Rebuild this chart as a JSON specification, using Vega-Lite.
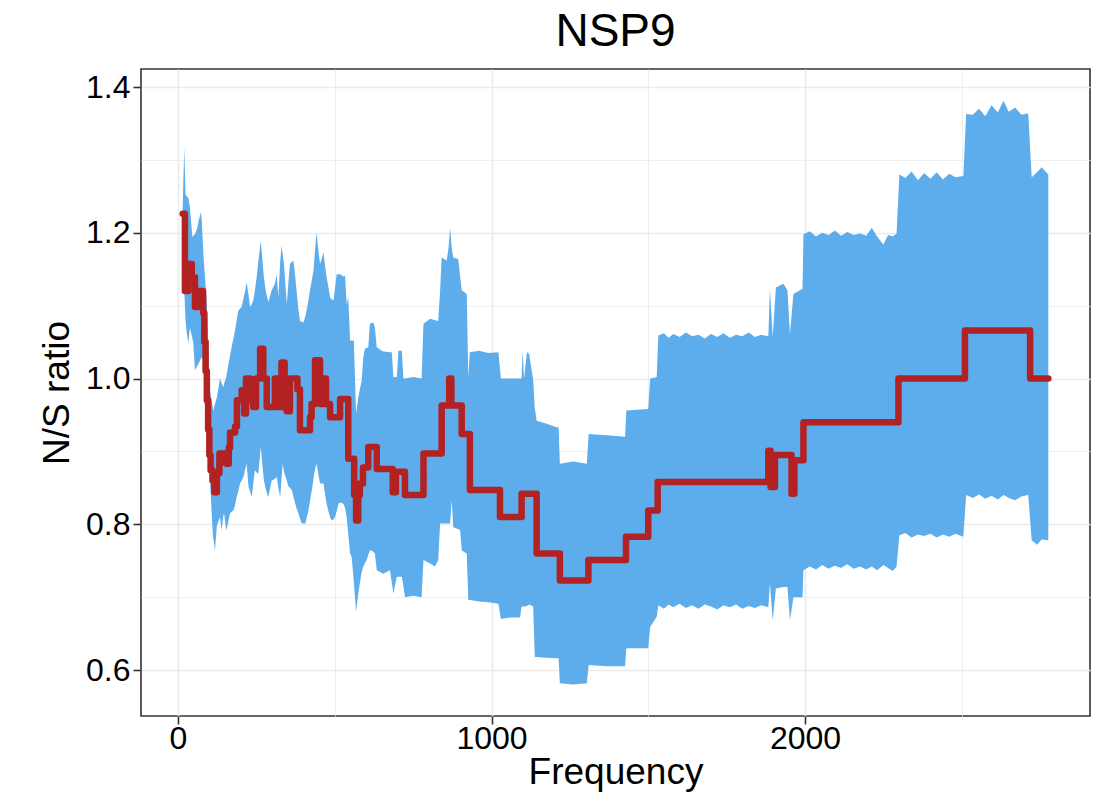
{
  "$schema": "https://vega.github.io/schema/vega-lite/v6.json",
  "width": 949,
  "height": 647,
  "autosize": {"type": "none"},
  "padding": {"left": 141, "top": 69, "right": 28, "bottom": 94},
  "background": "white",
  "config": {
    "font": "Liberation Sans",
    "view": {"stroke": "#333333", "strokeWidth": 1.6},
    "axis": {
      "domain": false,
      "grid": true,
      "gridColor": "#EBEBEB",
      "tickColor": "#333333",
      "tickWidth": 1.6,
      "tickSize": 8,
      "labelFontSize": 32,
      "labelColor": "#000000",
      "labelFlush": false,
      "labelOverlap": false,
      "titleFontSize": 37,
      "titleFontWeight": "normal",
      "titleColor": "#000000"
    }
  },
  "title": {"text": "NSP9", "fontSize": 46, "fontWeight": "normal", "color": "#000000", "anchor": "middle", "offset": 13},
  "datasets": {
    "ribbon": [
      {"f":15,"hi":1.235,"lo":1.16},{"f":20,"hi":1.317,"lo":1.121},{"f":24,"hi":1.253,"lo":1.08},{"f":27,"hi":1.25,"lo":1.066},
      {"f":33,"hi":1.248,"lo":1.048},{"f":38,"hi":1.235,"lo":1.07},{"f":46,"hi":1.194,"lo":1.055},{"f":49,"hi":1.196,"lo":1.048},
      {"f":54,"hi":1.198,"lo":1.011},{"f":62,"hi":1.207,"lo":1.018},{"f":65,"hi":1.215,"lo":1.02},{"f":73,"hi":1.228,"lo":1.027},
      {"f":76,"hi":1.215,"lo":1.029},{"f":81,"hi":1.171,"lo":1.025},{"f":92,"hi":1.102,"lo":0.974},{"f":102,"hi":0.984,"lo":0.86},
      {"f":111,"hi":0.96,"lo":0.787},{"f":113,"hi":0.956,"lo":0.78},{"f":118,"hi":0.965,"lo":0.764},{"f":124,"hi":0.974,"lo":0.798},
      {"f":134,"hi":1.0,"lo":0.81},{"f":139,"hi":0.994,"lo":0.792},{"f":145,"hi":0.988,"lo":0.812},{"f":147,"hi":0.993,"lo":0.815},
      {"f":153,"hi":1.0,"lo":0.795},{"f":155,"hi":1.005,"lo":0.792},{"f":161,"hi":1.02,"lo":0.805},{"f":166,"hi":1.032,"lo":0.815},
      {"f":171,"hi":1.043,"lo":0.817},{"f":177,"hi":1.055,"lo":0.819},{"f":182,"hi":1.066,"lo":0.826},{"f":187,"hi":1.08,"lo":0.837},
      {"f":192,"hi":1.093,"lo":0.845},{"f":198,"hi":1.096,"lo":0.856},{"f":203,"hi":1.098,"lo":0.86},{"f":209,"hi":1.11,"lo":0.865},
      {"f":214,"hi":1.12,"lo":0.875},{"f":219,"hi":1.132,"lo":0.883},{"f":225,"hi":1.115,"lo":0.851},{"f":230,"hi":1.098,"lo":0.845},
      {"f":235,"hi":1.102,"lo":0.837},{"f":240,"hi":1.107,"lo":0.855},{"f":245,"hi":1.12,"lo":0.874},{"f":251,"hi":1.139,"lo":0.871},
      {"f":256,"hi":1.16,"lo":0.869},{"f":264,"hi":1.189,"lo":0.906},{"f":274,"hi":1.139,"lo":0.86},{"f":280,"hi":1.12,"lo":0.848},
      {"f":288,"hi":1.105,"lo":0.837},{"f":293,"hi":1.112,"lo":0.848},{"f":299,"hi":1.121,"lo":0.86},{"f":309,"hi":1.13,"lo":0.862},
      {"f":315,"hi":1.143,"lo":0.865},{"f":320,"hi":1.111,"lo":0.85},{"f":326,"hi":1.16,"lo":0.837},{"f":330,"hi":1.182,"lo":0.86},
      {"f":334,"hi":1.17,"lo":0.883},{"f":338,"hi":1.157,"lo":0.872},{"f":347,"hi":1.102,"lo":0.86},{"f":352,"hi":1.13,"lo":0.852},
      {"f":357,"hi":1.157,"lo":0.85},{"f":363,"hi":1.16,"lo":0.847},{"f":368,"hi":1.162,"lo":0.838},{"f":374,"hi":1.14,"lo":0.828},
      {"f":378,"hi":1.121,"lo":0.822},{"f":384,"hi":1.095,"lo":0.815},{"f":389,"hi":1.079,"lo":0.808},{"f":395,"hi":1.078,"lo":0.801},
      {"f":400,"hi":1.077,"lo":0.801},{"f":406,"hi":1.085,"lo":0.801},{"f":410,"hi":1.093,"lo":0.808},{"f":416,"hi":1.107,"lo":0.819},
      {"f":421,"hi":1.121,"lo":0.832},{"f":427,"hi":1.135,"lo":0.847},{"f":432,"hi":1.148,"lo":0.862},{"f":437,"hi":1.175,"lo":0.875},
      {"f":442,"hi":1.2,"lo":0.883},{"f":448,"hi":1.175,"lo":0.868},{"f":453,"hi":1.157,"lo":0.856},{"f":459,"hi":1.165,"lo":0.856},
      {"f":464,"hi":1.173,"lo":0.856},{"f":469,"hi":1.155,"lo":0.842},{"f":474,"hi":1.139,"lo":0.828},{"f":480,"hi":1.125,"lo":0.818},
      {"f":485,"hi":1.111,"lo":0.81},{"f":490,"hi":1.109,"lo":0.805},{"f":496,"hi":1.107,"lo":0.807},{"f":501,"hi":1.125,"lo":0.81},
      {"f":506,"hi":1.143,"lo":0.818},{"f":512,"hi":1.143,"lo":0.828},{"f":517,"hi":1.143,"lo":0.83},{"f":528,"hi":1.14,"lo":0.828},
      {"f":533,"hi":1.141,"lo":0.822},{"f":538,"hi":1.102,"lo":0.81},{"f":543,"hi":1.111,"lo":0.787},{"f":549,"hi":1.052,"lo":0.76},
      {"f":554,"hi":1.052,"lo":0.755},{"f":561,"hi":1.052,"lo":0.72},{"f":568,"hi":0.952,"lo":0.68},{"f":575,"hi":0.974,"lo":0.705},
      {"f":580,"hi":0.985,"lo":0.719},{"f":586,"hi":0.997,"lo":0.735},{"f":591,"hi":1.029,"lo":0.742},{"f":596,"hi":1.041,"lo":0.746},
      {"f":602,"hi":1.042,"lo":0.751},{"f":607,"hi":1.043,"lo":0.758},{"f":612,"hi":1.075,"lo":0.764},{"f":618,"hi":1.076,"lo":0.764},
      {"f":623,"hi":1.077,"lo":0.762},{"f":628,"hi":1.07,"lo":0.76},{"f":634,"hi":1.043,"lo":0.737},{"f":650,"hi":1.038,"lo":0.733},
      {"f":655,"hi":1.037,"lo":0.732},{"f":676,"hi":1.036,"lo":0.737},{"f":682,"hi":1.036,"lo":0.72},{"f":687,"hi":1.002,"lo":0.705},
      {"f":698,"hi":1.002,"lo":0.728},{"f":703,"hi":1.038,"lo":0.728},{"f":714,"hi":1.038,"lo":0.728},{"f":719,"hi":1.0,"lo":0.715},
      {"f":724,"hi":1.0,"lo":0.7},{"f":750,"hi":1.002,"lo":0.702},{"f":777,"hi":1.0,"lo":0.7},{"f":783,"hi":1.075,"lo":0.751},
      {"f":804,"hi":1.082,"lo":0.746},{"f":820,"hi":1.08,"lo":0.742},{"f":830,"hi":1.079,"lo":0.751},{"f":836,"hi":1.12,"lo":0.801},
      {"f":841,"hi":1.166,"lo":0.801},{"f":857,"hi":1.162,"lo":0.801},{"f":863,"hi":1.18,"lo":0.801},{"f":868,"hi":1.207,"lo":0.801},
      {"f":873,"hi":1.18,"lo":0.833},{"f":878,"hi":1.166,"lo":0.796},{"f":894,"hi":1.164,"lo":0.793},{"f":900,"hi":1.14,"lo":0.792},
      {"f":905,"hi":1.121,"lo":0.764},{"f":921,"hi":1.116,"lo":0.76},{"f":926,"hi":1.002,"lo":0.696},{"f":931,"hi":1.036,"lo":0.696},
      {"f":960,"hi":1.038,"lo":0.694},{"f":990,"hi":1.035,"lo":0.693},{"f":1022,"hi":1.036,"lo":0.691},{"f":1030,"hi":1.0,"lo":0.67},
      {"f":1060,"hi":1.0,"lo":0.672},{"f":1091,"hi":1.0,"lo":0.672},{"f":1096,"hi":1.0,"lo":0.687},{"f":1099,"hi":1.038,"lo":0.687},
      {"f":1104,"hi":1.0,"lo":0.687},{"f":1113,"hi":1.036,"lo":0.688},{"f":1120,"hi":1.034,"lo":0.69},{"f":1133,"hi":0.998,"lo":0.687},
      {"f":1138,"hi":0.96,"lo":0.618},{"f":1144,"hi":0.942,"lo":0.618},{"f":1176,"hi":0.938,"lo":0.617},{"f":1208,"hi":0.933,"lo":0.616},
      {"f":1214,"hi":0.933,"lo":0.616},{"f":1218,"hi":0.883,"lo":0.582},{"f":1261,"hi":0.886,"lo":0.58},{"f":1304,"hi":0.883,"lo":0.582},
      {"f":1310,"hi":0.924,"lo":0.607},{"f":1367,"hi":0.922,"lo":0.605},{"f":1426,"hi":0.92,"lo":0.605},{"f":1430,"hi":0.956,"lo":0.63},
      {"f":1500,"hi":0.958,"lo":0.63},{"f":1506,"hi":1.0,"lo":0.659},{"f":1527,"hi":1.002,"lo":0.673},{"f":1532,"hi":1.059,"lo":0.689},
      {"f":1550,"hi":1.062,"lo":0.684},{"f":1565,"hi":1.056,"lo":0.69},{"f":1580,"hi":1.061,"lo":0.686},{"f":1600,"hi":1.057,"lo":0.691},
      {"f":1620,"hi":1.063,"lo":0.685},{"f":1640,"hi":1.058,"lo":0.689},{"f":1660,"hi":1.06,"lo":0.684},{"f":1680,"hi":1.055,"lo":0.69},
      {"f":1700,"hi":1.061,"lo":0.687},{"f":1720,"hi":1.057,"lo":0.683},{"f":1740,"hi":1.062,"lo":0.689},{"f":1760,"hi":1.056,"lo":0.686},
      {"f":1780,"hi":1.06,"lo":0.69},{"f":1800,"hi":1.058,"lo":0.684},{"f":1820,"hi":1.063,"lo":0.688},{"f":1840,"hi":1.057,"lo":0.685},
      {"f":1860,"hi":1.06,"lo":0.689},{"f":1883,"hi":1.058,"lo":0.686},{"f":1888,"hi":1.123,"lo":0.719},{"f":1897,"hi":1.057,"lo":0.668},
      {"f":1907,"hi":1.125,"lo":0.712},{"f":1931,"hi":1.13,"lo":0.714},{"f":1944,"hi":1.121,"lo":0.714},{"f":1952,"hi":1.061,"lo":0.668},
      {"f":1963,"hi":1.116,"lo":0.7},{"f":1992,"hi":1.123,"lo":0.7},{"f":1995,"hi":1.198,"lo":0.737},{"f":2015,"hi":1.202,"lo":0.742},
      {"f":2035,"hi":1.195,"lo":0.738},{"f":2055,"hi":1.2,"lo":0.744},{"f":2075,"hi":1.197,"lo":0.739},{"f":2095,"hi":1.203,"lo":0.743},
      {"f":2115,"hi":1.196,"lo":0.74},{"f":2135,"hi":1.201,"lo":0.745},{"f":2155,"hi":1.197,"lo":0.739},{"f":2176,"hi":1.199,"lo":0.742},
      {"f":2195,"hi":1.196,"lo":0.738},{"f":2213,"hi":1.207,"lo":0.742},{"f":2230,"hi":1.195,"lo":0.737},{"f":2250,"hi":1.184,"lo":0.744},
      {"f":2265,"hi":1.197,"lo":0.74},{"f":2280,"hi":1.195,"lo":0.736},{"f":2292,"hi":1.199,"lo":0.742},{"f":2301,"hi":1.28,"lo":0.785},
      {"f":2320,"hi":1.275,"lo":0.788},{"f":2340,"hi":1.284,"lo":0.782},{"f":2360,"hi":1.272,"lo":0.786},{"f":2380,"hi":1.282,"lo":0.784},
      {"f":2400,"hi":1.274,"lo":0.787},{"f":2420,"hi":1.283,"lo":0.782},{"f":2440,"hi":1.273,"lo":0.786},{"f":2460,"hi":1.281,"lo":0.783},
      {"f":2480,"hi":1.276,"lo":0.787},{"f":2505,"hi":1.278,"lo":0.783},{"f":2514,"hi":1.363,"lo":0.84},{"f":2535,"hi":1.362,"lo":0.836},
      {"f":2555,"hi":1.37,"lo":0.841},{"f":2575,"hi":1.36,"lo":0.835},{"f":2595,"hi":1.375,"lo":0.839},{"f":2615,"hi":1.365,"lo":0.834},
      {"f":2633,"hi":1.381,"lo":0.84},{"f":2650,"hi":1.366,"lo":0.836},{"f":2670,"hi":1.372,"lo":0.833},{"f":2690,"hi":1.362,"lo":0.838},
      {"f":2712,"hi":1.364,"lo":0.84},{"f":2723,"hi":1.276,"lo":0.778},{"f":2740,"hi":1.283,"lo":0.772},{"f":2755,"hi":1.29,"lo":0.779},
      {"f":2776,"hi":1.28,"lo":0.778}
    ],
    "ratio": [
      {"f":15,"ns":1.226},{"f":22,"ns":1.12},{"f":33,"ns":1.157},{"f":44,"ns":1.139},{"f":54,"ns":1.098},{"f":65,"ns":1.12},
      {"f":80,"ns":1.09},{"f":84,"ns":1.05},{"f":88,"ns":1.01},{"f":92,"ns":0.97},{"f":96,"ns":0.93},{"f":100,"ns":0.895},
      {"f":104,"ns":0.874},{"f":110,"ns":0.86},{"f":116,"ns":0.844},{"f":124,"ns":0.87},{"f":132,"ns":0.897},{"f":140,"ns":0.885},
      {"f":145,"ns":0.897},{"f":155,"ns":0.883},{"f":162,"ns":0.905},{"f":166,"ns":0.926},{"f":182,"ns":0.934},{"f":188,"ns":0.97},
      {"f":203,"ns":0.984},{"f":211,"ns":0.952},{"f":217,"ns":1.0},{"f":230,"ns":0.97},{"f":240,"ns":0.961},{"f":249,"ns":1.0},
      {"f":262,"ns":1.041},{"f":272,"ns":1.0},{"f":283,"ns":0.961},{"f":309,"ns":1.0},{"f":317,"ns":0.961},{"f":330,"ns":1.022},
      {"f":340,"ns":0.96},{"f":347,"ns":0.955},{"f":357,"ns":1.0},{"f":381,"ns":0.985},{"f":389,"ns":0.929},{"f":421,"ns":0.947},
      {"f":426,"ns":0.965},{"f":437,"ns":1.025},{"f":453,"ns":0.965},{"f":464,"ns":1.0},{"f":472,"ns":0.965},{"f":485,"ns":0.947},
      {"f":517,"ns":0.972},{"f":543,"ns":0.89},{"f":562,"ns":0.84},{"f":568,"ns":0.805},{"f":575,"ns":0.84},{"f":580,"ns":0.856},
      {"f":590,"ns":0.878},{"f":607,"ns":0.906},{"f":634,"ns":0.876},{"f":685,"ns":0.844},{"f":695,"ns":0.872},{"f":724,"ns":0.84},
      {"f":783,"ns":0.897},{"f":841,"ns":0.963},{"f":865,"ns":1.0},{"f":872,"ns":0.963},{"f":905,"ns":0.924},{"f":931,"ns":0.847},
      {"f":1027,"ns":0.81},{"f":1096,"ns":0.842},{"f":1144,"ns":0.76},{"f":1218,"ns":0.723},{"f":1309,"ns":0.751},{"f":1429,"ns":0.783},
      {"f":1500,"ns":0.819},{"f":1530,"ns":0.858},{"f":1883,"ns":0.901},{"f":1890,"ns":0.851},{"f":1904,"ns":0.895},{"f":1957,"ns":0.842},
      {"f":1966,"ns":0.888},{"f":1995,"ns":0.94},{"f":2298,"ns":1.0},{"f":2510,"ns":1.066},{"f":2718,"ns":1.0},{"f":2776,"ns":1.0}
    ]
  },
  "layer": [
    {
      "data": {"name": "ribbon"},
      "mark": {"type": "area", "color": "#5DADEC", "opacity": 1},
      "encoding": {
        "x": {
          "field": "f", "type": "quantitative",
          "scale": {"domain": [-118, 2909], "nice": false, "zero": false},
          "axis": {
            "title": "Frequency",
            "values": [0, 500, 1000, 1500, 2000, 2500],
            "format": "d",
            "labelExpr": "datum.value % 1000 === 0 ? datum.label : ''",
            "gridWidth": {"condition": {"test": "datum.value % 1000 === 0", "value": 1.6}, "value": 0.8},
            "tickOpacity": {"condition": {"test": "datum.value % 1000 === 0", "value": 1}, "value": 0},
            "labelPadding": -1,
            "titlePadding": 0
          }
        },
        "y": {
          "field": "hi", "type": "quantitative",
          "scale": {"domain": [0.5369, 1.4247], "nice": false, "zero": false},
          "axis": {
            "title": "N/S ratio",
            "values": [0.6, 0.7, 0.8, 0.9, 1.0, 1.1, 1.2, 1.3, 1.4],
            "format": ".1f",
            "labelExpr": "round(datum.value * 10) % 2 === 0 ? datum.label : ''",
            "gridWidth": {"condition": {"test": "round(datum.value * 10) % 2 === 0", "value": 1.6}, "value": 0.8},
            "tickOpacity": {"condition": {"test": "round(datum.value * 10) % 2 === 0", "value": 1}, "value": 0},
            "labelPadding": 3,
            "titlePadding": 9
          }
        },
        "y2": {"field": "lo"}
      }
    },
    {
      "data": {"name": "ratio"},
      "mark": {"type": "line", "color": "#B22222", "strokeWidth": 6.5, "interpolate": "step-after", "strokeJoin": "round", "strokeCap": "round"},
      "encoding": {
        "x": {"field": "f", "type": "quantitative"},
        "y": {"field": "ns", "type": "quantitative"}
      }
    }
  ]
}
